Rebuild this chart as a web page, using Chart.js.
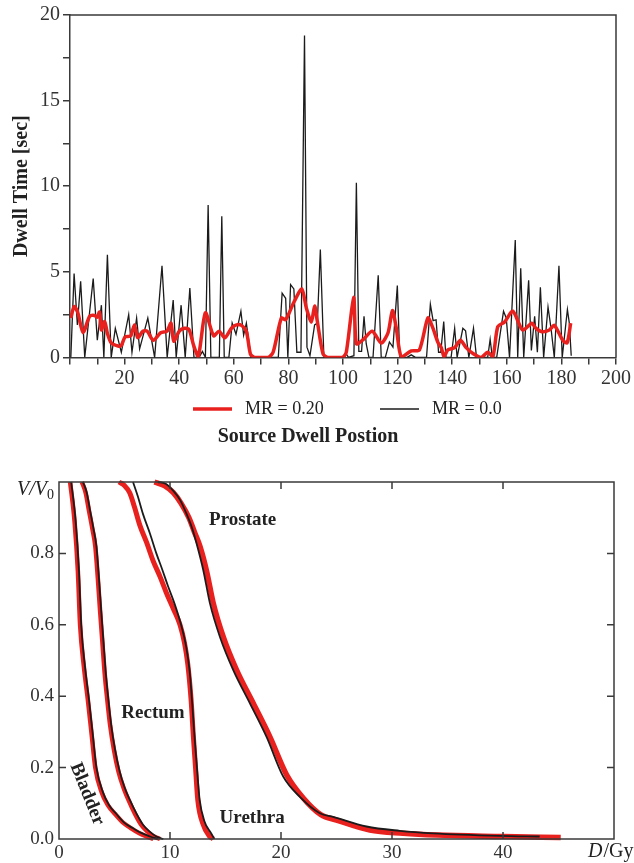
<!DOCTYPE html>
<html>
<head>
<meta charset="utf-8">
<script src="https://cdn.jsdelivr.net/npm/chart.js@4.4.1/dist/chart.umd.min.js"></script>
<style>
  html, body { margin: 0; padding: 0; background: #fff; }
  #top { position: absolute; left: 0; top: 0; width: 634px; height: 462px; }
  #bottom { position: absolute; left: 0; top: 462px; width: 634px; height: 401px; }
</style>
</head>
<body>
<div id="top"><canvas id="dwell"></canvas></div>
<div id="bottom"><canvas id="dvh"></canvas></div>
<script>
// ---- top panel: dwell times (vertices) ----
var blackPos = [0.3, 1.5, 2.7, 3.9, 5.4, 8.5, 10, 11.5, 12.4, 13.7, 15.1, 16.6, 18.8, 21.5, 22.7, 24.4, 25.5, 28.5, 31, 33.7,
  35.6, 37.8, 38.9, 40.7, 42.2, 43.9, 45.4, 47.3, 48.5, 49.6, 50.6, 51.6, 54.7, 55.6, 56.5, 58.2, 59.4, 60.8, 62.6, 63.6,
  64.6, 66.3, 76.3, 77.7, 79, 79.8, 80.8, 82, 83.1, 84.6, 85.9, 86.8, 87.9, 89.6, 90.6, 91.7, 93, 100.5, 101.2, 102,
  104, 104.9, 105.8, 106.8, 107.7, 108.5, 109.5, 111, 112.9, 114, 115.5, 117, 118.3, 119.9, 120.8, 123.5, 125, 126.5, 130.6, 132,
  133, 134.1, 135, 135.8, 136.9, 137.7, 139.6, 140.9, 141.8, 143.9, 144.9, 146.1, 147.8, 148.9, 153, 153.9, 154.7, 156.3, 158.8, 159.8,
  161, 163.1, 164, 165.1, 166.2, 168, 169, 170.2, 171.2, 172.3, 173.5, 175.1, 176.2, 177.4, 179.1, 180.3, 182.2, 182.9, 183.6];
var blackVal = [0, 4.9, 1.9, 4.45, 0, 4.6, 1.0, 3.05, 0, 6.0, 0, 1.7, 0.3, 2.5, 0.3, 2.3, 0.5, 2.3, 0, 5.35,
  0, 3.35, 0, 3.05, 0, 4.05, 0, 0, 0.35, 0, 8.9, 0, 0, 8.25, 0, 0, 2.0, 1.35, 2.7, 1.3,
  2.0, 0, 0, 3.75, 3.45, 0, 4.25, 4.0, 0.3, 0.3, 18.8, 0.6, 0.1, 1.9, 2.0, 6.3, 0, 0, 0.2, 0,
  0.1, 10.2, 0.35, 0.35, 2.4, 0.8, 0, 0, 4.8, 0, 0, 0.9, 0.6, 4.2, 0, 0, 0.15, 0, 0, 3.1,
  2.15, 2.2, 0.3, 0.3, 2.1, 0, 0, 1.7, 0, 1.7, 1.55, 0, 1.7, 0, 0, 1.05, 0, 0, 2.7, 2.3,
  0, 6.85, 0, 5.2, 0, 4.5, 0.4, 2.4, 0.3, 4.1, 0, 2.95, 1.7, 0, 5.35, 0, 2.8, 2.0, 0.1];

var redPos = [0.3, 1.5, 2.8, 4.8, 7.2, 9, 10, 10.8, 11.5, 12.7, 13.7, 15.1, 17.6, 18.8, 20.2, 22.2, 23.6, 24.8, 26.7, 28.3,
  30.5, 33.2, 35.5, 37, 38, 40.1, 42, 43.6, 45.3, 47, 49.6, 52.6, 54.6, 56.7, 59.2, 61, 62.8, 64.6, 66.1, 67.7,
  72.6, 74.4, 77.4, 79, 82, 84.9, 86.6, 88.4, 89.6, 90.5, 92.7, 94.5, 99.8, 101.2, 103.9, 104.9, 107.3, 110.7, 114, 116.5,
  118.1, 119.5, 121.4, 125, 128, 131.1, 132.9, 134.8, 136, 137, 138.4, 140.9, 143, 145.1, 147.6, 150.6, 153, 154.9, 156.7, 159.2,
  162.2, 165.8, 169.2, 170.5, 172.9, 175.6, 177.4, 180.5, 182.1, 183.4];
var redVal = [2.3, 2.97, 2.65, 1.45, 2.4, 2.45, 2.35, 2.65, 1.6, 2.1, 1.4, 0.85, 0.67, 0.7, 1.2, 1.25, 1.9, 1.15, 1.53, 1.53,
  1.0, 1.44, 1.53, 2.0, 0.95, 1.55, 1.7, 1.63, 0.7, 0.05, 2.6, 1.26, 1.53, 1.15, 1.72, 1.9, 1.87, 1.53, 0.19, 0,
  0, 0.3, 2.3, 2.2, 3.22, 4.0, 2.87, 2.07, 3.0, 2.2, 0.2, 0, 0, 0.3, 3.5, 0.8, 1.03, 1.53, 0.84, 1.44,
  2.74, 1.72, 0, 0.38, 0.44, 2.3, 1.72, 0.86, 0.57, 0.04, 0.44, 0.57, 1.0, 0.57, 0.23, 0, 0.3, 0.05, 1.8, 2.07,
  2.7, 1.6, 2.0, 1.72, 1.5, 1.6, 1.87, 1.0, 0.86, 2.0];

// ---- bottom panel: dose-volume histograms ----
var organs = ['Prostate', 'Urethra', 'Rectum', 'Bladder'];

var prostateDoseBlack = [8.9, 9.6, 10.3, 10.9, 11.5, 12.0, 12.4, 13.0, 13.6, 14.5, 15.7, 17.2, 18.7, 20.2, 21.7, 23.5, 24.7, 27.7, 30.7, 33.7, 39.7, 43.3];
var prostateVolBlack = [1.0, 0.995, 0.975, 0.95, 0.91, 0.87, 0.827, 0.753, 0.66, 0.566, 0.473, 0.38, 0.286, 0.175, 0.118, 0.072, 0.062, 0.035, 0.023, 0.016, 0.009, 0.007];
var prostateDoseRed = [8.6, 9.5, 10.3, 11.0, 11.7, 12.2, 12.7, 13.3, 13.9, 14.8, 16.0, 17.5, 19.0, 20.5, 22.0, 23.6, 25.0, 28.0, 31.0, 34.0, 40.0, 45.2];
var prostateVolRed = [1.0, 0.99, 0.97, 0.94, 0.9, 0.86, 0.82, 0.75, 0.66, 0.566, 0.473, 0.38, 0.286, 0.18, 0.115, 0.068, 0.053, 0.025, 0.016, 0.011, 0.007, 0.004];

var urethraDoseBlack = [6.67, 7.1, 7.57, 8.2, 8.77, 9.3, 9.8, 10.4, 11.0, 11.45, 11.77, 12.0, 12.2, 12.45, 12.67, 13.1, 13.7, 14.0];
var urethraVolBlack = [1.0, 0.96, 0.91, 0.855, 0.8, 0.755, 0.71, 0.66, 0.6, 0.54, 0.47, 0.38, 0.29, 0.19, 0.11, 0.05, 0.016, 0];
var urethraDoseRed = [5.4, 5.9, 6.37, 6.8, 7.27, 7.9, 8.47, 9.1, 9.67, 10.3, 10.9, 11.3, 11.6, 11.9, 12.1, 12.3, 12.5, 13.0, 13.5, 13.9];
var urethraVolRed = [1.0, 0.99, 0.97, 0.93, 0.88, 0.83, 0.78, 0.735, 0.69, 0.645, 0.6, 0.55, 0.49, 0.39, 0.29, 0.2, 0.11, 0.04, 0.01, 0];

var rectumDoseBlack = [2.16, 2.5, 2.8, 3.1, 3.37, 3.6, 3.8, 4.0, 4.2, 4.45, 4.7, 5.05, 5.46, 5.9, 6.37, 7.0, 7.57, 8.2, 8.77, 9.4];
var rectumVolBlack = [1.0, 0.97, 0.92, 0.87, 0.82, 0.73, 0.64, 0.555, 0.47, 0.39, 0.32, 0.25, 0.19, 0.145, 0.11, 0.07, 0.04, 0.02, 0.007, 0];
var rectumDoseRed = [2.06, 2.4, 2.7, 3.0, 3.27, 3.5, 3.7, 3.9, 4.1, 4.35, 4.6, 4.95, 5.35, 5.8, 6.25, 6.85, 7.4, 8.0, 8.55, 9.1];
var rectumVolRed = rectumVolBlack;

var bladderDoseBlack = [1.1, 1.5, 1.8, 2.0, 2.35, 2.7, 3.05, 3.37, 3.97, 4.5, 5.17, 5.9, 6.67, 7.4, 8.2, 8.9];
var bladderVolBlack = [1.0, 0.89, 0.75, 0.6, 0.48, 0.39, 0.29, 0.2, 0.13, 0.095, 0.07, 0.045, 0.03, 0.017, 0.007, 0];
var bladderDoseRed = [1.0, 1.4, 1.7, 1.9, 2.25, 2.6, 2.95, 3.27, 3.85, 4.4, 5.05, 5.8, 6.5, 7.2, 7.9, 8.5];
var bladderVolRed = bladderVolBlack;

var RED = '#e8211e';
var BLACK = '#1b1b1b';
var AXIS = '#3a3a3a';
var SERIF = '"Liberation Serif", "DejaVu Serif", serif';

Chart.defaults.font.family = SERIF;
Chart.defaults.color = '#222';
Chart.defaults.animation = false;

function pts(xs, ys) {
  return xs.map(function(x, i) { return {x: x, y: ys[i]}; });
}

// box around the dwell plot + hand drawn legend between ticks and title
var dwellDecor = {
  id: 'dwellDecor',
  afterDraw: function(chart) {
    var ctx = chart.ctx, a = chart.chartArea;
    ctx.save();
    ctx.strokeStyle = AXIS;
    ctx.lineWidth = 1.5;
    ctx.beginPath();
    ctx.moveTo(a.left, a.top); ctx.lineTo(a.right, a.top); ctx.lineTo(a.right, a.bottom);
    ctx.stroke();

    var starts = [193, 380];
    var y = 409;
    ctx.font = '18px ' + SERIF;
    ctx.fillStyle = '#222';
    ctx.textBaseline = 'middle';
    chart.data.datasets.forEach(function(ds, i) {
      var x0 = starts[i];
      ctx.strokeStyle = ds.borderColor;
      ctx.lineWidth = ds.borderWidth;
      ctx.beginPath(); ctx.moveTo(x0, y); ctx.lineTo(x0 + 39, y); ctx.stroke();
      ctx.fillText(ds.label, x0 + 52, y);
    });
    ctx.restore();
  }
};

new Chart(document.getElementById('dwell'), {
  type: 'scatter',
  data: {
    datasets: [
      { label: 'MR = 0.20', data: pts(redPos, redVal), showLine: true, borderColor: RED, backgroundColor: RED,
        borderWidth: 3.5, pointRadius: 0, tension: 0.25 },
      { label: 'MR = 0.0', data: pts(blackPos, blackVal), showLine: true, borderColor: BLACK, backgroundColor: BLACK,
        borderWidth: 1.3, pointRadius: 0, tension: 0 }
    ]
  },
  options: {
    responsive: true,
    maintainAspectRatio: false,
    animation: false,
    layout: { padding: { top: 11, right: 18, left: 0, bottom: 0 } },
    scales: {
      x: {
        type: 'linear', min: 0, max: 200,
        afterFit: function(s) { s.height = 67.6; },
        ticks: { stepSize: 10, autoSkip: false, maxRotation: 0, padding: 2, font: { size: 20 }, color: '#333',
          callback: function(v) { return (v > 0 && v % 20 === 0) ? v : ''; } },
        grid: { drawOnChartArea: false, tickLength: 7, color: AXIS, lineWidth: 1.5 },
        border: { color: AXIS, width: 1.5 }
      },
      y: {
        min: 0, max: 20,
        afterFit: function(s) { s.width = 70; },
        ticks: { stepSize: 2.5, autoSkip: false, padding: 3, font: { size: 20 }, color: '#333',
          callback: function(v) { return v % 5 === 0 ? v : ''; } },
        grid: { drawOnChartArea: false, tickLength: 7, color: AXIS, lineWidth: 1.5 },
        border: { color: AXIS, width: 1.5 },
        title: { display: true, text: 'Dwell Time [sec]', font: { size: 20, weight: 'bold' }, color: '#222',
          padding: { top: 10, bottom: 0 } }
      }
    },
    plugins: {
      legend: { display: false },
      tooltip: { enabled: false },
      title: { display: true, position: 'bottom', text: 'Source Dwell Postion',
        font: { size: 20, weight: 'bold' }, color: '#222', padding: { top: 0, bottom: 13 } }
    }
  },
  plugins: [dwellDecor]
});

// frame with inward ticks, axis symbols and organ names
var organLabels = [
  { text: 'Prostate', x: 16.55, y: 0.893, rot: 0 },
  { text: 'Rectum', x: 8.47, y: 0.353, rot: 0 },
  { text: 'Urethra', x: 17.4, y: 0.058, rot: 0 },
  { text: 'Bladder', x: 2.52, y: 0.126, rot: 68 }
];

var dvhDecor = {
  id: 'dvhDecor',
  afterDraw: function(chart) {
    var ctx = chart.ctx, a = chart.chartArea, xs = chart.scales.x, ys = chart.scales.y;
    ctx.save();
    ctx.strokeStyle = AXIS;
    ctx.lineWidth = 1.5;
    ctx.strokeRect(a.left, a.top, a.right - a.left, a.bottom - a.top);
    ctx.beginPath();
    xs.ticks.forEach(function(t) {
      var px = xs.getPixelForValue(t.value);
      if (px <= a.left + 1 || px >= a.right - 1) return;
      ctx.moveTo(px, a.bottom); ctx.lineTo(px, a.bottom - 7);
      ctx.moveTo(px, a.top); ctx.lineTo(px, a.top + 7);
    });
    ys.ticks.forEach(function(t) {
      var py = ys.getPixelForValue(t.value);
      if (py <= a.top + 1 || py >= a.bottom - 1) return;
      ctx.moveTo(a.left, py); ctx.lineTo(a.left + 7, py);
      ctx.moveTo(a.right, py); ctx.lineTo(a.right - 7, py);
    });
    ctx.stroke();

    // V/V0 at the top of the y axis
    ctx.fillStyle = '#222';
    ctx.textBaseline = 'middle';
    ctx.textAlign = 'left';
    var vy = a.top + 8;
    ctx.font = 'italic 20px ' + SERIF;
    var w1 = ctx.measureText('V/V').width;
    var vx = a.left - 4 - w1 - 8;
    ctx.fillText('V/V', vx, vy);
    ctx.font = '14px ' + SERIF;
    ctx.fillText('0', vx + w1, vy + 5);

    // D/Gy under the last x tick
    var dy = a.bottom + 13;
    var dx = xs.getPixelForValue(50) - 26;
    ctx.font = 'italic 20px ' + SERIF;
    ctx.fillText('D', dx, dy);
    var wd = ctx.measureText('D').width;
    ctx.font = '20px ' + SERIF;
    ctx.fillText('/Gy', dx + wd + 1, dy);

    ctx.font = 'bold 19px ' + SERIF;
    ctx.textAlign = 'center';
    organLabels.forEach(function(l) {
      var px = xs.getPixelForValue(l.x), py = ys.getPixelForValue(l.y);
      ctx.save();
      ctx.translate(px, py);
      ctx.rotate(l.rot * Math.PI / 180);
      ctx.fillText(l.text, 0, 0);
      ctx.restore();
    });
    ctx.restore();
  }
};

function curve(label, xs, ys, color, width) {
  return { label: label, data: pts(xs, ys), showLine: true, borderColor: color, backgroundColor: color,
    borderWidth: width, pointRadius: 0, cubicInterpolationMode: 'monotone', clip: false };
}

new Chart(document.getElementById('dvh'), {
  type: 'scatter',
  data: {
    datasets: [
      curve(organs[0], prostateDoseBlack, prostateVolBlack, BLACK, 1.8),
      curve(organs[1], urethraDoseBlack, urethraVolBlack, BLACK, 1.8),
      curve(organs[2], rectumDoseBlack, rectumVolBlack, BLACK, 1.8),
      curve(organs[3], bladderDoseBlack, bladderVolBlack, BLACK, 1.8),
      curve(organs[0], prostateDoseRed, prostateVolRed, RED, 5.5),
      curve(organs[1], urethraDoseRed, urethraVolRed, RED, 5),
      curve(organs[2], rectumDoseRed, rectumVolRed, RED, 4.5),
      curve(organs[3], bladderDoseRed, bladderVolRed, RED, 4.5)
    ]
  },
  options: {
    responsive: true,
    maintainAspectRatio: false,
    animation: false,
    layout: { padding: { top: 20, right: 20, left: 0, bottom: 0 } },
    scales: {
      x: {
        type: 'linear', min: 0, max: 50,
        afterFit: function(s) { s.height = 24; },
        ticks: { stepSize: 10, autoSkip: false, maxRotation: 0, padding: 3, font: { size: 19 }, color: '#333',
          callback: function(v) { return v === 50 ? '' : v; } },
        grid: { drawOnChartArea: false, drawTicks: false },
        border: { display: false }
      },
      y: {
        min: 0, max: 1,
        afterFit: function(s) { s.width = 59; },
        ticks: { stepSize: 0.2, autoSkip: false, padding: 5, font: { size: 19 }, color: '#333',
          callback: function(v) { return v > 0.99 ? '' : v.toFixed(1); } },
        grid: { drawOnChartArea: false, drawTicks: false },
        border: { display: false }
      }
    },
    plugins: {
      legend: { display: false },
      tooltip: { enabled: false }
    }
  },
  plugins: [dvhDecor]
});
</script>
</body>
</html>
